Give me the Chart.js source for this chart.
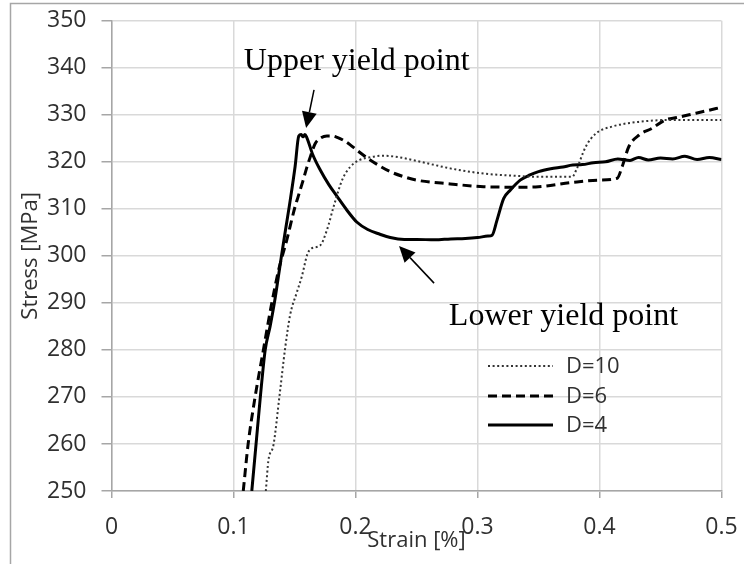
<!DOCTYPE html>
<html>
<head>
<meta charset="utf-8">
<script src="https://cdn.jsdelivr.net/npm/chart.js@4/dist/chart.umd.min.js"></script>
<style>
  html, body { margin: 0; padding: 0; background: #fff; }
  #wrap { width: 744px; height: 564px; }
</style>
</head>
<body>
<div id="wrap"><canvas id="c" width="744" height="564"></canvas></div>
<script>
// ---- Data ----
const seriesNames = ['D=10', 'D=6', 'D=4'];

const strainD10 = [0.1265,0.1286,0.1327,0.1376,0.1423,0.1464,0.152,0.156,0.1605,0.164,0.171,0.1766,0.182,0.189,0.1956,0.2035,0.2125,0.223,0.235,0.250,0.2776,0.305,0.332,0.350,0.3776,0.381,0.3887,0.397,0.4105,0.4325,0.460,0.500];
const stressD10 = [250,256.5,259.7,270,280.3,287.4,292.3,295.6,300.3,301.6,302.2,305.5,310.4,316.1,318.9,320.4,321.0,321.3,321.0,320.2,318.6,317.5,317.0,316.8,316.8,318.3,323.2,326.0,327.5,328.5,328.9,328.9];

const strainD6 = [0.108,0.112,0.1177,0.1245,0.1314,0.137,0.1437,0.1505,0.153,0.157,0.160,0.163,0.167,0.171,0.1765,0.1806,0.185,0.190,0.1957,0.201,0.212,0.2285,0.240,0.250,0.2776,0.305,0.332,0.350,0.3776,0.400,0.4145,0.4186,0.424,0.4325,0.443,0.454,0.4635,0.4735,0.487,0.500];
const stressD6 = [250,260,270,280,290,297,303.4,310.5,312.6,316,318.7,321.1,323.9,325,325.5,325.5,325.2,324.6,323.6,322.5,320.4,317.9,316.8,316.1,315.3,314.7,314.6,314.7,315.6,316.1,316.5,319,323.2,325.7,327.1,328.9,329.4,330,330.8,331.6];

const strainD4 = [0.115,0.1185,0.122,0.126,0.130,0.1335,0.138,0.142,0.146,0.1505,0.1535,0.1555,0.157,0.1585,0.160,0.165,0.171,0.178,0.185,0.193,0.201,0.210,0.220,0.2285,0.240,0.250,0.265,0.278,0.290,0.300,0.3085,0.312,0.316,0.3215,0.327,0.335,0.343,0.350,0.360,0.370,0.378,0.386,0.395,0.405,0.415,0.425,0.432,0.440,0.450,0.460,0.470,0.480,0.490,0.500];
const stressD4 = [250,260,270,280,285,290,297.7,304.5,311,319,325.5,325.8,325.3,325.8,325.2,321.5,318.3,315.2,312.6,309.7,307.2,305.6,304.6,303.9,303.5,303.5,303.4,303.6,303.7,303.9,304.2,304.4,307.6,312.2,314.0,316.1,317.2,317.9,318.5,318.9,319.3,319.4,319.8,320.0,320.6,320.3,320.9,320.4,320.8,320.6,321.2,320.5,320.9,320.5];

const xTicks = [0, 0.1, 0.2, 0.3, 0.4, 0.5];
const yTicks = [250, 260, 270, 280, 290, 300, 310, 320, 330, 340, 350];

// annotation texts with anchor (data coords) and arrows (tail -> tip, data coords)
const annotationTexts = ['Upper yield point', 'Lower yield point'];
const annotationTextAt = [[0.1085, 339.5], [0.2765, 285.3]];
const arrowTail = [[0.166, 335.3], [0.2644, 294.2]];
const arrowTip  = [[0.1595, 327.2], [0.2357, 302.1]];

function pts(xs, ys) { return xs.map((x, i) => ({x: x, y: ys[i]})); }

const styles = [
  {borderColor: '#333333', borderWidth: 2, borderDash: [2, 2.6]},
  {borderColor: '#000000', borderWidth: 3, borderDash: [9, 5]},
  {borderColor: '#000000', borderWidth: 3, borderDash: []}
];
const seriesData = [pts(strainD10, stressD10), pts(strainD6, stressD6), pts(strainD4, stressD4)];

const datasets = seriesNames.map((name, i) => Object.assign({
  label: name,
  data: seriesData[i],
  showLine: true,
  pointRadius: 0,
  fill: false,
  cubicInterpolationMode: 'monotone'
}, styles[i]));

const frameAndDecor = {
  id: 'frameAndDecor',
  beforeDraw(chart) {
    const ctx = chart.ctx;
    ctx.save();
    ctx.fillStyle = '#ffffff';
    ctx.fillRect(0, 0, chart.width, chart.height);
    ctx.restore();
  },
  afterDraw(chart) {
    const ctx = chart.ctx;
    const xs = chart.scales.x, ys = chart.scales.y;
    ctx.save();
    // outer frame (left and top edges visible)
    ctx.strokeStyle = '#a6a6a6';
    ctx.lineWidth = 1.5;
    ctx.beginPath();
    ctx.moveTo(10.5, chart.height);
    ctx.lineTo(10.5, 3.5);
    ctx.lineTo(chart.width, 3.5);
    ctx.stroke();

    // annotations
    ctx.fillStyle = '#000';
    ctx.font = '32px "Liberation Serif", "Times New Roman", serif';
    ctx.textBaseline = 'alphabetic';
    ctx.textAlign = 'left';
    annotationTexts.forEach((t, i) => {
      ctx.fillText(t, xs.getPixelForValue(annotationTextAt[i][0]), ys.getPixelForValue(annotationTextAt[i][1]));
    });
    ctx.strokeStyle = '#000';
    ctx.lineWidth = 1.5;
    arrowTail.forEach((tail, i) => {
      const x1 = xs.getPixelForValue(tail[0]), y1 = ys.getPixelForValue(tail[1]);
      const x2 = xs.getPixelForValue(arrowTip[i][0]), y2 = ys.getPixelForValue(arrowTip[i][1]);
      const ang = Math.atan2(y2 - y1, x2 - x1);
      const hl = 16, hw = 7.5;
      const bx = x2 - hl * Math.cos(ang), by = y2 - hl * Math.sin(ang);
      ctx.beginPath();
      ctx.moveTo(x1, y1);
      ctx.lineTo(bx, by);
      ctx.stroke();
      ctx.beginPath();
      ctx.moveTo(x2, y2);
      ctx.lineTo(bx + hw * Math.sin(ang), by - hw * Math.cos(ang));
      ctx.lineTo(bx - hw * Math.sin(ang), by + hw * Math.cos(ang));
      ctx.closePath();
      ctx.fill();
    });

    // legend inside plot
    const lx0 = 488, lx1 = 553, tx = 566;
    const rowY = [366, 396, 425];
    ctx.font = '22px "Open Sans", sans-serif';
    ctx.textBaseline = 'middle';
    chart.data.datasets.forEach((ds, i) => {
      ctx.strokeStyle = ds.borderColor;
      ctx.lineWidth = ds.borderWidth;
      ctx.setLineDash(ds.borderDash || []);
      ctx.beginPath();
      ctx.moveTo(lx0, rowY[i]);
      ctx.lineTo(lx1, rowY[i]);
      ctx.stroke();
      ctx.setLineDash([]);
      ctx.fillStyle = '#303030';
      ctx.fillText(ds.label, tx, rowY[i] + 1);
    });
    ctx.restore();
  }
};

new Chart(document.getElementById('c'), {
  type: 'scatter',
  data: { datasets: datasets },
  options: {
    responsive: false,
    devicePixelRatio: 1,
    animation: false,
    layout: { padding: { left: 0, right: 22.5, top: 20.7, bottom: 0 } },
    plugins: { legend: { display: false }, tooltip: { enabled: false } },
    scales: {
      x: {
        type: 'linear', min: 0, max: 0.5,
        afterBuildTicks(s) { s.ticks = xTicks.map(v => ({value: v})); },
        afterFit(s) { s.height = 73; s.paddingLeft = 0; s.paddingRight = 0; },
        ticks: {
          color: '#303030', font: { family: 'Open Sans', size: 23 }, padding: 16,
          maxRotation: 0, autoSkip: false,
          callback: v => String(v)
        },
        grid: { color: '#d9d9d9', lineWidth: 1.5, tickLength: 7, tickColor: '#a6a6a6', tickWidth: 1.5 },
        border: { color: '#a6a6a6', width: 1.5 },
        title: { display: true, text: 'Strain [%]', color: '#303030', font: { family: 'Open Sans', size: 22 }, padding: { top: 0, bottom: 10 } }
      },
      y: {
        type: 'linear', min: 250, max: 350,
        afterBuildTicks(s) { s.ticks = yTicks.map(v => ({value: v})); },
        afterFit(s) { s.width = 111.5; s.paddingTop = 0; s.paddingBottom = 0; },
        ticks: {
          color: '#303030', font: { family: 'Open Sans', size: 23 }, padding: 15,
          autoSkip: false, callback: v => String(v)
        },
        grid: { color: '#d9d9d9', lineWidth: 1.5, tickLength: 10, tickColor: '#a6a6a6', tickWidth: 1.5 },
        border: { color: '#a6a6a6', width: 1.5 },
        title: { display: true, text: 'Stress [MPa]', color: '#303030', font: { family: 'Open Sans', size: 22 }, padding: { top: 18, bottom: 0 } }
      }
    }
  },
  plugins: [frameAndDecor]
});
</script>
</body>
</html>
